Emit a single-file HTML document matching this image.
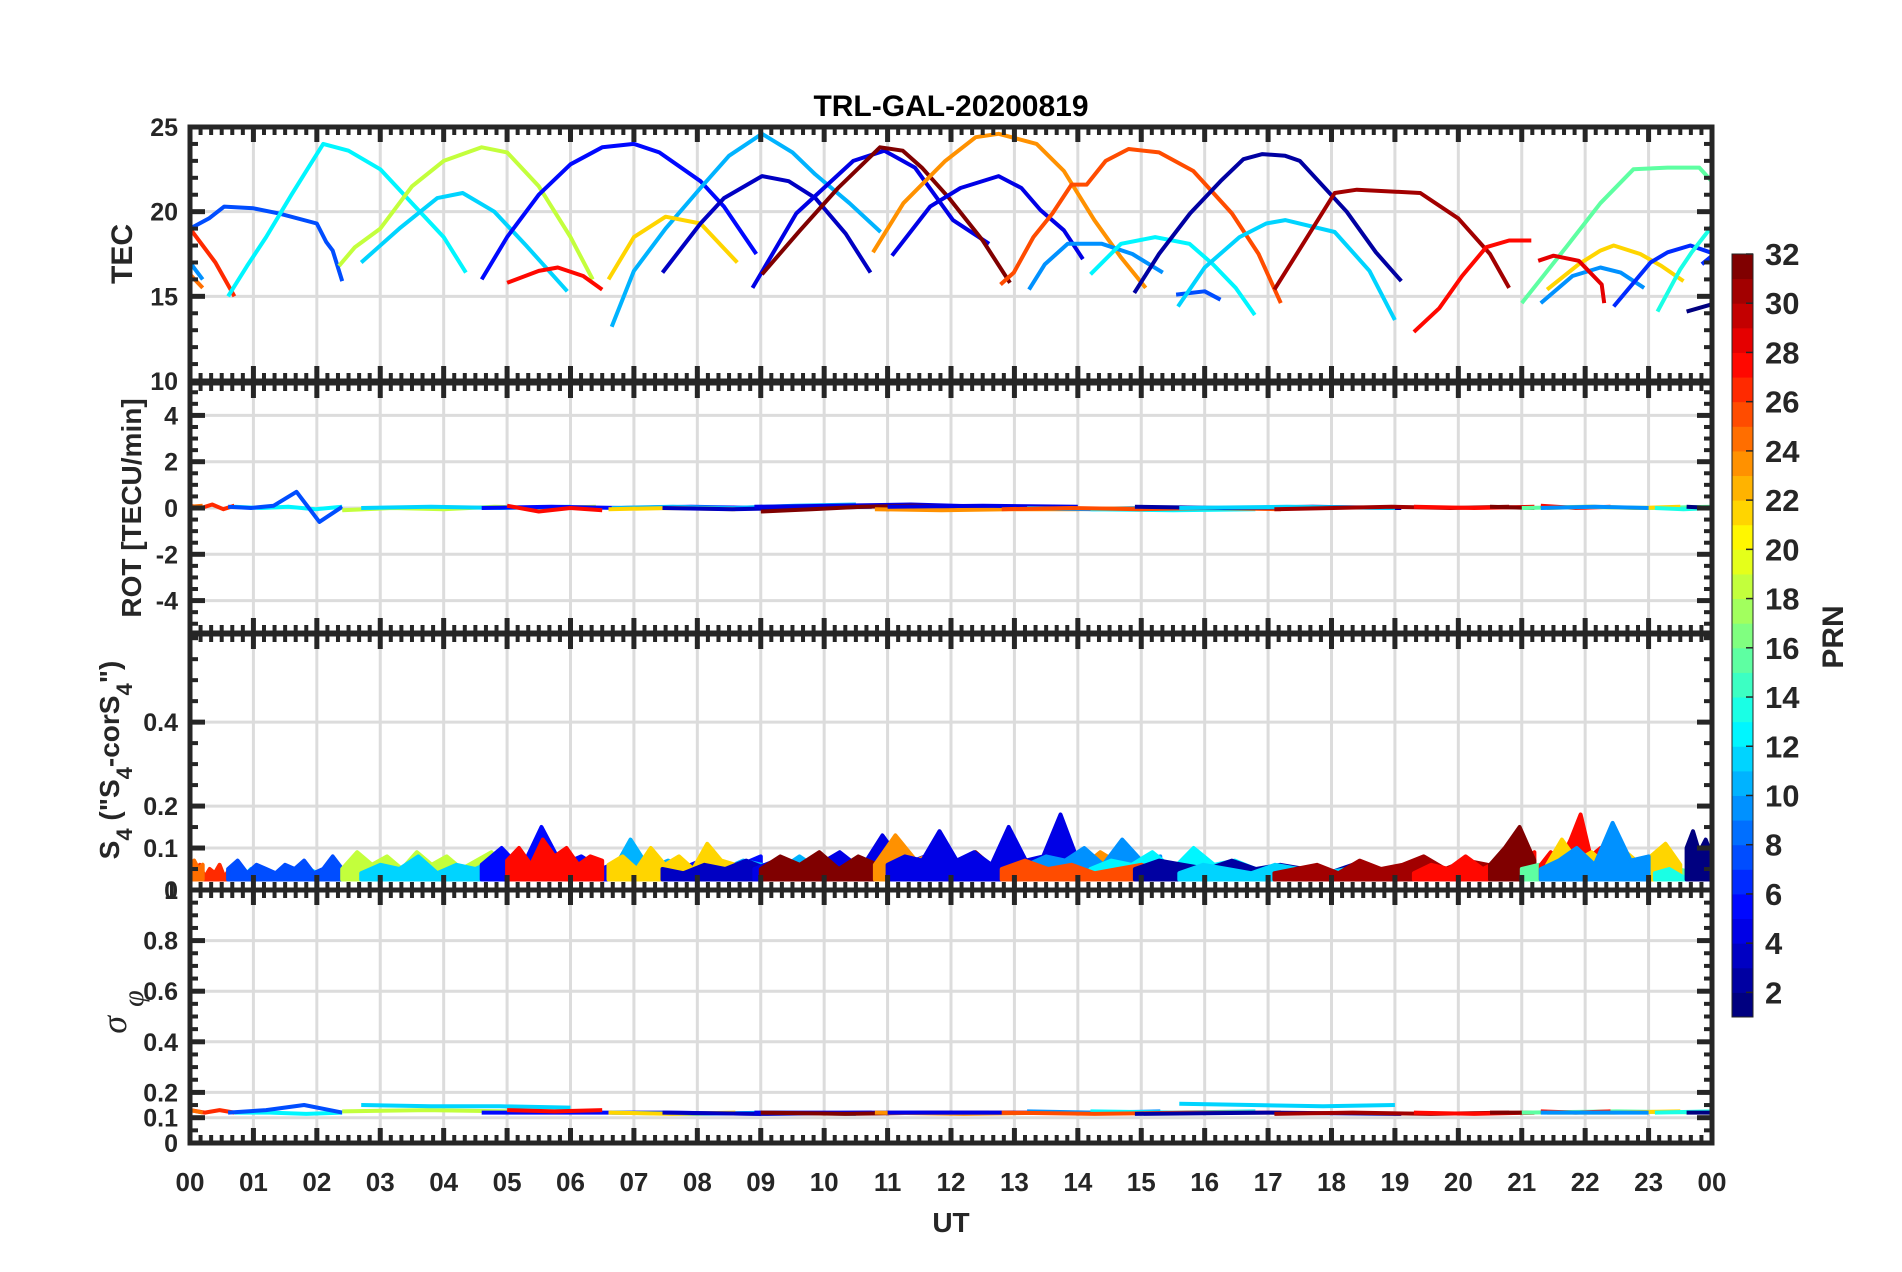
<!DOCTYPE html>
<html><head><meta charset="utf-8">
<style>
html,body{margin:0;padding:0;background:#fff;}
svg{display:block;font-family:"Liberation Sans",Arial,sans-serif;}
</style></head>
<body>
<svg id="chart" xmlns="http://www.w3.org/2000/svg" width="1902" height="1272" viewBox="0 0 1902 1272">
<rect x="0" y="0" width="1902" height="1272" fill="#fff"/>
</svg>
<script>
// ---- data ----
const hourLabels = ["00","01","02","03","04","05","06","07","08","09","10","11","12","13","14","15","16","17","18","19","20","21","22","23","00"];
const tecTicks = [10,15,20,25];
const rotTicks = [-4,-2,0,2,4];
const s4Ticks = [0,0.1,0.2,0.4];
const sigTicks = [0,0.1,0.2,0.4,0.6,0.8];
const cbTicks = [2,4,6,8,10,12,14,16,18,20,22,24,26,28,30,32];
const s4Base = 0.025;

const tecPRN = [7,26,9,24,12,11,18,5,27,10,21,3,4,31,23,4,25,9,12,7,2,11,30,27,15,21,9,6,13,1,28,6];
const tecH = [
 [0,0.3,0.54,1.0,1.4,2.0,2.15,2.25,2.4],
 [0,0.2,0.4,0.55,0.7],
 [0,0.1,0.2],
 [0,0.1,0.2],
 [0.6,0.9,1.2,1.6,1.85,2.1,2.5,3.0,3.5,4.0,4.35],
 [2.7,3.3,3.9,4.3,4.8,5.3,5.95],
 [2.35,2.6,3.0,3.5,4.0,4.6,5.0,5.5,6.0,6.35],
 [4.6,5.0,5.5,6.0,6.5,7.0,7.4,8.05,8.42,8.93],
 [5.0,5.5,5.8,6.2,6.5],
 [6.65,7.0,7.5,8.05,8.5,9.02,9.5,9.86,10.4,10.89],
 [6.6,7.0,7.5,8.05,8.63],
 [7.45,8.05,8.42,9.02,9.44,9.86,10.34,10.73],
 [8.87,9.56,10.46,10.95,11.43,12.03,12.6],
 [9.02,9.62,10.22,10.88,11.24,11.54,11.97,12.5,12.93],
 [10.77,11.25,11.91,12.39,12.75,13.35,13.78,14.26,14.68,15.07],
 [11.07,11.67,12.15,12.75,13.11,13.41,13.78,14.08],
 [12.78,12.99,13.3,13.6,13.9,14.14,14.44,14.8,15.28,15.82,16.43,16.85,17.2],
 [13.23,13.48,13.84,14.38,14.86,15.34],
 [14.2,14.68,15.22,15.76,16.13,16.49,16.79],
 [15.55,16.0,16.25],
 [14.89,15.28,15.77,16.25,16.61,16.91,17.27,17.5,18.24,18.7,19.1],
 [15.58,16.0,16.55,16.97,17.27,18.05,18.6,19.0],
 [17.1,17.4,18.05,18.4,19.4,20.0,20.5,20.8],
 [19.3,19.7,20.06,20.44,20.8,21.15],
 [21.0,21.7,22.24,22.76,23.3,23.8,23.97,24],
 [21.4,21.9,22.24,22.45,22.87,23.2,23.55],
 [21.3,21.8,22.24,22.56,22.93],
 [22.45,23.03,23.3,23.66,23.97],
 [23.14,23.5,23.68,23.97,24],
 [23.6,23.97,24],
 [21.26,21.5,21.9,22.26,22.3],
 [23.84,23.97,24]
];
const tecV = [
 [19.0,19.6,20.3,20.2,19.9,19.3,18.2,17.7,15.9],
 [19.0,18.0,17.0,16.0,15.0],
 [17.0,16.5,16.0],
 [16.3,15.9,15.5],
 [15.0,16.8,18.5,21.0,22.5,24.0,23.6,22.5,20.5,18.5,16.4],
 [17.0,19.0,20.8,21.1,20.0,18.0,15.3],
 [16.8,17.9,19.0,21.5,23.0,23.8,23.5,21.5,18.5,16.0],
 [16.0,18.5,21.0,22.8,23.8,24.0,23.5,21.8,20.3,17.5],
 [15.8,16.5,16.7,16.2,15.4],
 [13.2,16.5,19.0,21.4,23.3,24.6,23.5,22.2,20.5,18.8],
 [16.0,18.5,19.7,19.3,17.0],
 [16.4,19.3,20.8,22.1,21.8,20.8,18.7,16.4],
 [15.5,19.9,23.0,23.6,22.6,19.5,18.1],
 [16.3,18.9,21.4,23.8,23.6,22.6,20.8,18.3,15.8],
 [17.6,20.5,23.0,24.4,24.6,24.0,22.4,19.5,17.3,15.5],
 [17.4,20.3,21.4,22.1,21.4,20.1,18.9,17.2],
 [15.7,16.4,18.5,19.9,21.6,21.6,23.0,23.7,23.5,22.4,19.9,17.5,14.6],
 [15.4,16.9,18.1,18.1,17.5,16.4],
 [16.3,18.1,18.5,18.1,16.9,15.5,13.9],
 [15.1,15.3,14.8],
 [15.2,17.5,19.9,21.8,23.1,23.4,23.3,23.0,20.0,17.6,15.9],
 [14.4,16.7,18.5,19.3,19.5,18.8,16.5,13.6],
 [15.4,17.2,21.1,21.3,21.1,19.6,17.5,15.5],
 [12.9,14.3,16.2,17.9,18.3,18.3],
 [14.6,17.9,20.5,22.5,22.6,22.6,21.9,21.8],
 [15.4,16.9,17.7,18.0,17.5,16.8,15.9],
 [14.6,16.2,16.7,16.4,15.5],
 [14.4,17.0,17.6,18.0,17.6],
 [14.1,16.6,17.6,19.0,19.2],
 [14.1,14.5,14.6],
 [17.1,17.4,17.1,15.7,14.6],
 [16.9,17.3,17.4]
];

const arcPRN   = [26,24,12,7,18,11,5,27,10,21,3,4,31,23,4,9,12,25,2,11,30,27,31,15,27,21,9,13,1];
const arcStart = [0,0,0.7,0.6,2.4,2.7,4.6,5.0,6.65,6.6,7.45,8.9,9.0,10.8,11.0,13.2,14.2,12.8,14.9,15.6,17.1,19.3,20.5,21.0,21.3,21.4,21.3,23.1,23.6];
const arcEnd   = [0.7,0.2,2.4,2.4,6.4,6.0,9.0,6.5,10.5,8.6,10.75,12.6,13.0,15.0,14.0,15.3,16.8,17.2,19.1,19.0,20.8,21.2,21.2,24,22.4,23.5,23.0,24,24];
const s4Vals = [
 [0.05,0.04,0.06,0.03,0.05,0.04,0.06,0.03,0.05,0.06],
 [0.06,0.07,0.05,0.06],
 [0.04,0.03,0.05,0.03,0.04,0.03,0.05,0.04,0.03,0.05,0.04,0.03,0.06,0.04],
 [0.05,0.07,0.04,0.06,0.05,0.04,0.06,0.05,0.07,0.04,0.05,0.08,0.05],
 [0.05,0.09,0.06,0.08,0.05,0.09,0.06,0.08,0.05,0.07,0.09,0.05,0.08,0.06,0.07,0.05,0.08,0.06],
 [0.04,0.06,0.05,0.08,0.04,0.06,0.05,0.07,0.04,0.06,0.05,0.04],
 [0.06,0.1,0.05,0.15,0.06,0.08,0.05,0.07,0.05,0.06,0.05,0.07,0.05,0.06,0.08],
 [0.07,0.1,0.06,0.12,0.08,0.1,0.06,0.08,0.07],
 [0.04,0.12,0.05,0.07,0.05,0.06,0.05,0.07,0.06,0.05,0.08,0.05,0.07,0.06],
 [0.06,0.08,0.05,0.1,0.06,0.08,0.05,0.11,0.07,0.06],
 [0.05,0.04,0.06,0.05,0.07,0.05,0.06,0.04,0.05,0.06,0.05],
 [0.05,0.07,0.05,0.06,0.09,0.05,0.13,0.06,0.08,0.06,0.07,0.05],
 [0.05,0.08,0.06,0.09,0.05,0.08,0.06,0.07,0.05,0.08,0.06,0.09,0.05,0.07],
 [0.06,0.13,0.07,0.09,0.06,0.08,0.05,0.07,0.06,0.08,0.05,0.09,0.06,0.07],
 [0.06,0.08,0.07,0.14,0.07,0.09,0.06,0.15,0.07,0.08,0.18,0.07],
 [0.06,0.08,0.07,0.1,0.06,0.12,0.07,0.08],
 [0.05,0.07,0.06,0.09,0.05,0.1,0.06,0.07,0.05],
 [0.05,0.07,0.05,0.06,0.04,0.05,0.06,0.04,0.05,0.04,0.05,0.04,0.05],
 [0.05,0.07,0.06,0.05,0.07,0.05,0.06,0.05,0.04,0.06,0.05,0.04],
 [0.04,0.06,0.05,0.04,0.06,0.05,0.04,0.05,0.04,0.05],
 [0.04,0.05,0.06,0.04,0.07,0.05,0.06,0.08,0.05,0.07,0.06,0.05],
 [0.04,0.06,0.05,0.08,0.05,0.07,0.06,0.09],
 [0.06,0.1,0.15,0.07],
 [0.05,0.06,0.04,0.07,0.05,0.06,0.05,0.07,0.04,0.05,0.04,0.05],
 [0.06,0.09,0.07,0.12,0.18,0.08,0.1,0.07],
 [0.06,0.12,0.07,0.09,0.06,0.1,0.07,0.08,0.11,0.06],
 [0.05,0.07,0.1,0.06,0.16,0.07,0.08],
 [0.04,0.05,0.03,0.04,0.05],
 [0.1,0.14,0.09,0.12,0.08]
];
const rotVals = [
 [0.1,0.0,0.15,-0.05,0.1],[0.05,0.1],[0.05,0.0,0.05,-0.05,0.05],[0.05,0.0,0.1,0.7,-0.6,0.05],
 [-0.1,0.0,-0.05,0.05,0.0,0.05],[0.0,0.05,0.0,0.05],[0.0,0.05,0.0,0.05,0.0],[0.1,-0.15,0.0,-0.1],
 [0.0,0.05,0.0,0.1,0.15],[-0.05,0.0,-0.05],[0.0,-0.05,0.0,0.05],[0.05,0.1,0.15,0.05],
 [-0.15,-0.05,0.05,0.1,0.05,0.0],[-0.05,-0.1,-0.05,-0.05,0.0],[0.05,0.1,0.05],[0.0,-0.05,0.0],
 [-0.05,-0.1,-0.05],[-0.05,0.0,-0.05,0.0,-0.05],[0.05,0.0,0.05,0.0],[0.0,0.05,0.0],
 [-0.05,0.0,0.05,0.0,0.05],[0.05,0.0,0.05],[0.05,0.0],[0.0,0.05,0.0,0.05],[0.1,0.0,0.05],
 [0.0,0.05,0.0,0.05],[0.0,0.05,0.0],[0.0,-0.05,0.0],[0.05,0.0]
];
const sigVals = [
 [0.13,0.12,0.13,0.12],[0.13,0.12],[0.12,0.12,0.115,0.12],[0.12,0.13,0.15,0.12],
 [0.125,0.13,0.125,0.125],[0.15,0.145,0.145,0.14],[0.12,0.12,0.12,0.115],[0.13,0.125,0.13],
 [0.12,0.115,0.12,0.115],[0.12,0.115,0.12],[0.12,0.115,0.12],[0.12,0.12,0.12],
 [0.12,0.115,0.12,0.12],[0.12,0.115,0.12,0.12],[0.12,0.12,0.12],[0.125,0.12,0.125],
 [0.125,0.12,0.125],[0.12,0.115,0.12,0.12],[0.115,0.12,0.115],[0.155,0.15,0.145,0.15],
 [0.115,0.12,0.115,0.12],[0.12,0.115,0.12],[0.12,0.12],[0.12,0.125,0.12],[0.125,0.12,0.125],
 [0.12,0.12,0.125],[0.12,0.12],[0.12,0.125],[0.12,0.12]
];

// ---- layout ----
const NS = "http://www.w3.org/2000/svg";
const svg = document.getElementById("chart");
const X0 = 190, X1 = 1712;
const INK = "#262626";
function xs(h){ return X0 + (X1 - X0) * h / 24; }
function mk(tag, attrs, parent){
  const e = document.createElementNS(NS, tag);
  for (const k in attrs) e.setAttribute(k, attrs[k]);
  (parent || svg).appendChild(e);
  return e;
}
function jet(prn){
  let i = Math.max(0, Math.min(30, Math.floor(prn - 1)));
  const t = i / 30;
  const c = v => Math.round(255 * Math.max(0, Math.min(1, v)));
  return "rgb(" + c(1.5 - Math.abs(4*t - 3)) + "," + c(1.5 - Math.abs(4*t - 2)) + "," + c(1.5 - Math.abs(4*t - 1)) + ")";
}
const panels = [
  {key:"tec", y0:127, y1:381, min:10, max:25, ticks:tecTicks, minor:1},
  {key:"rot", y0:383, y1:633, min:-5.4, max:5.4, ticks:rotTicks, minor:0.5},
  {key:"s4",  y0:634, y1:890, min:0, max:0.61, ticks:s4Ticks, minor:0.05},
  {key:"sig", y0:890, y1:1143, min:0, max:1, ticks:sigTicks, minor:0.05}
];
panels.forEach(p => { p.ys = v => p.y1 - (p.y1 - p.y0) * (v - p.min) / (p.max - p.min); });

// grids
panels.forEach(p => {
  const g = mk("g", {});
  
  
  for (let h = 1; h < 24; h++) mk("line", {x1:xs(h), x2:xs(h), y1:p.y0, y2:p.y1, stroke:"#dcdcdc", "stroke-width":3}, g);
  p.ticks.forEach(v => { const y = p.ys(v); if (y > p.y0 + 3 && y < p.y1 - 3) mk("line", {x1:X0, x2:X1, y1:y, y2:y, stroke:"#dcdcdc", "stroke-width":3}, g); });
});

// clip paths
const defs = mk("defs", {});
panels.forEach(p => {
  const cp = mk("clipPath", {id:"clip-" + p.key}, defs);
  mk("rect", {x:X0, y:p.y0, width:X1 - X0, height:p.y1 - p.y0}, cp);
});

// TEC lines
const tecP = panels[0];
const tecG = mk("g", {"clip-path":"url(#clip-tec)"});


tecH.forEach((hs, i) => {
  const pts = hs.map((h, j) => xs(h).toFixed(1) + "," + tecP.ys(tecV[i][j]).toFixed(1)).join(" ");
  const pl = mk("polyline", {points:pts, fill:"none", stroke:jet(tecPRN[i]), "stroke-width":4, "stroke-linejoin":"round"}, tecG);
  
  
});

// arc series helper
function drawArcs(p, vals, width, name, fillBase){
  const g = mk("g", {"clip-path":"url(#clip-" + p.key + ")"});
  
  
  arcPRN.forEach((prn, i) => {
    const v = vals[i], n = v.length;
    const hAt = j => arcStart[i] + (arcEnd[i] - arcStart[i]) * (n > 1 ? j / (n - 1) : 0);
    const ptsArr = v.map((val, j) => xs(hAt(j)).toFixed(1) + "," + p.ys(val).toFixed(1));
    if (fillBase !== undefined) {
      const poly = ptsArr.concat([xs(hAt(n - 1)).toFixed(1) + "," + p.ys(fillBase).toFixed(1), xs(hAt(0)).toFixed(1) + "," + p.ys(fillBase).toFixed(1)]);
      const pg = mk("polygon", {points:poly.join(" "), fill:jet(prn), stroke:jet(prn), "stroke-width":width, "stroke-linejoin":"round"}, g);
      
      
    } else {
      const pl = mk("polyline", {points:ptsArr.join(" "), fill:"none", stroke:jet(prn), "stroke-width":width, "stroke-linejoin":"round"}, g);
      
      
    }
  });
}
drawArcs(panels[1], rotVals, 4, "rot-series");
drawArcs(panels[2], s4Vals, 4, "s4-series", s4Base);
drawArcs(panels[3], sigVals, 4, "sigma-series");

// frames and ticks
panels.forEach(p => {
  const g = mk("g", {});
  
  
  for (let k = 0; k <= 144; k++) {
    const x = xs(k / 6), major = (k % 6 === 0);
    const L = major ? 15 : 8, w = major ? 5 : 4;
    mk("line", {x1:x, x2:x, y1:p.y0, y2:p.y0 + L, stroke:INK, "stroke-width":w}, g);
    mk("line", {x1:x, x2:x, y1:p.y1, y2:p.y1 - L, stroke:INK, "stroke-width":w}, g);
  }
  const nMin = Math.ceil((p.min) / p.minor - 1e-9), nMax = Math.floor(p.max / p.minor + 1e-9);
  for (let k = nMin; k <= nMax; k++) {
    const v = k * p.minor, y = p.ys(v);
    const major = p.ticks.some(t => Math.abs(t - v) < 1e-6);
    const L = major ? 15 : 8, w = major ? 5 : 4;
    mk("line", {x1:X0, x2:X0 + L, y1:y, y2:y, stroke:INK, "stroke-width":w}, g);
    mk("line", {x1:X1, x2:X1 - L, y1:y, y2:y, stroke:INK, "stroke-width":w}, g);
  }
  mk("rect", {x:X0, y:p.y0, width:X1 - X0, height:p.y1 - p.y0, fill:"none", stroke:INK, "stroke-width":5}, g);
  p.ticks.forEach(v => {
    const t = mk("text", {x:178, y:p.ys(v) + 9, "text-anchor":"end", "font-size":25, "font-weight":"bold", fill:INK}, g);
    t.textContent = String(v);
    
    
  });
});
{
  const t = mk("text", {x:178, y:899, "text-anchor":"end", "font-size":25, "font-weight":"bold", fill:INK});
  t.textContent = "1";
  
  
}
hourLabels.forEach((lab, i) => {
  const t = mk("text", {x:xs(i), y:1191, "text-anchor":"middle", "font-size":26, "font-weight":"bold", fill:INK});
  t.textContent = lab;
  
  
});
</script>
<script>
(function(){
  const svg = document.getElementById("chart");
  const NS = "http://www.w3.org/2000/svg";
  function mk(tag, attrs, parent){ const e = document.createElementNS(NS, tag); for (const k in attrs) e.setAttribute(k, attrs[k]); (parent||svg).appendChild(e); return e; }
  const INK = "#262626";
  let t = mk("text", {x:951, y:116, "text-anchor":"middle", "font-size":30, "font-weight":"bold", fill:"#000"});
  t.textContent = "TRL-GAL-20200819";
  
  

  t = mk("text", {x:951, y:1232, "text-anchor":"middle", "font-size":28, "font-weight":"bold", fill:INK});
  t.textContent = "UT";
  
  

  t = mk("text", {transform:"translate(132,254) rotate(-90)", "text-anchor":"middle", "font-size":30, "font-weight":"bold", fill:INK});
  t.textContent = "TEC";
  
  

  t = mk("text", {transform:"translate(141,508) rotate(-90)", "text-anchor":"middle", "font-size":28, "font-weight":"bold", fill:INK});
  t.textContent = "ROT [TECU/min]";
  
  

  t = mk("text", {transform:"translate(119,760) rotate(-90)", "text-anchor":"middle", "font-size":28, "font-weight":"bold", fill:INK});
  
  
  const parts = [["S",0],["4",1],[" (\"S",0],["4",1],["-corS",0],["4",1],["\")",0]];
  parts.forEach(pt => {
    const s = mk("tspan", pt[1] ? {"baseline-shift":"sub", "font-size":22} : {}, t);
    s.textContent = pt[0];
  });

  t = mk("text", {transform:"translate(126,1012) rotate(-90)", "text-anchor":"middle", "font-size":36, "font-style":"italic", fill:INK, "font-family":"Liberation Serif, serif"});
  
  
  let s = mk("tspan", {}, t); s.textContent = "σ ";
  s = mk("tspan", {"baseline-shift":"sub", "font-size":30}, t); s.textContent = "φ";

  const cbTop = 254, cbBot = 1017, cbMin = 1, cbMax = 32;
  const cy = v => cbBot - (cbBot - cbTop) * (v - cbMin) / (cbMax - cbMin);
  function jet(i){ const tt = i/30; const c = v => Math.round(255*Math.max(0,Math.min(1,v)));
    return "rgb("+c(1.5-Math.abs(4*tt-3))+","+c(1.5-Math.abs(4*tt-2))+","+c(1.5-Math.abs(4*tt-1))+")"; }
  const g = mk("g", {});
  
  
  for (let i = 0; i < 31; i++) {
    mk("rect", {x:1732, y:cy(cbMin + i + 1), width:21, height:(cy(cbMin + i) - cy(cbMin + i + 1)) + 0.5, fill:jet(i)}, g);
  }
  mk("rect", {x:1732, y:cbTop, width:21, height:cbBot - cbTop, fill:"none", stroke:INK, "stroke-width":1}, g);
  [2,4,6,8,10,12,14,16,18,20,22,24,26,28,30,32].forEach(v => {
    mk("line", {x1:1746, x2:1753, y1:cy(v), y2:cy(v), stroke:INK, "stroke-width":1.5}, g);
    const l = mk("text", {x:1765, y:cy(v) + 11, "font-size":31, "font-weight":"bold", fill:INK}, g);
    l.textContent = String(v);
    
    
  });
  t = mk("text", {transform:"translate(1843,637) rotate(-90)", "text-anchor":"middle", "font-size":30, "font-weight":"bold", fill:INK});
  t.textContent = "PRN";
  
  
})();
</script>
</body></html>
